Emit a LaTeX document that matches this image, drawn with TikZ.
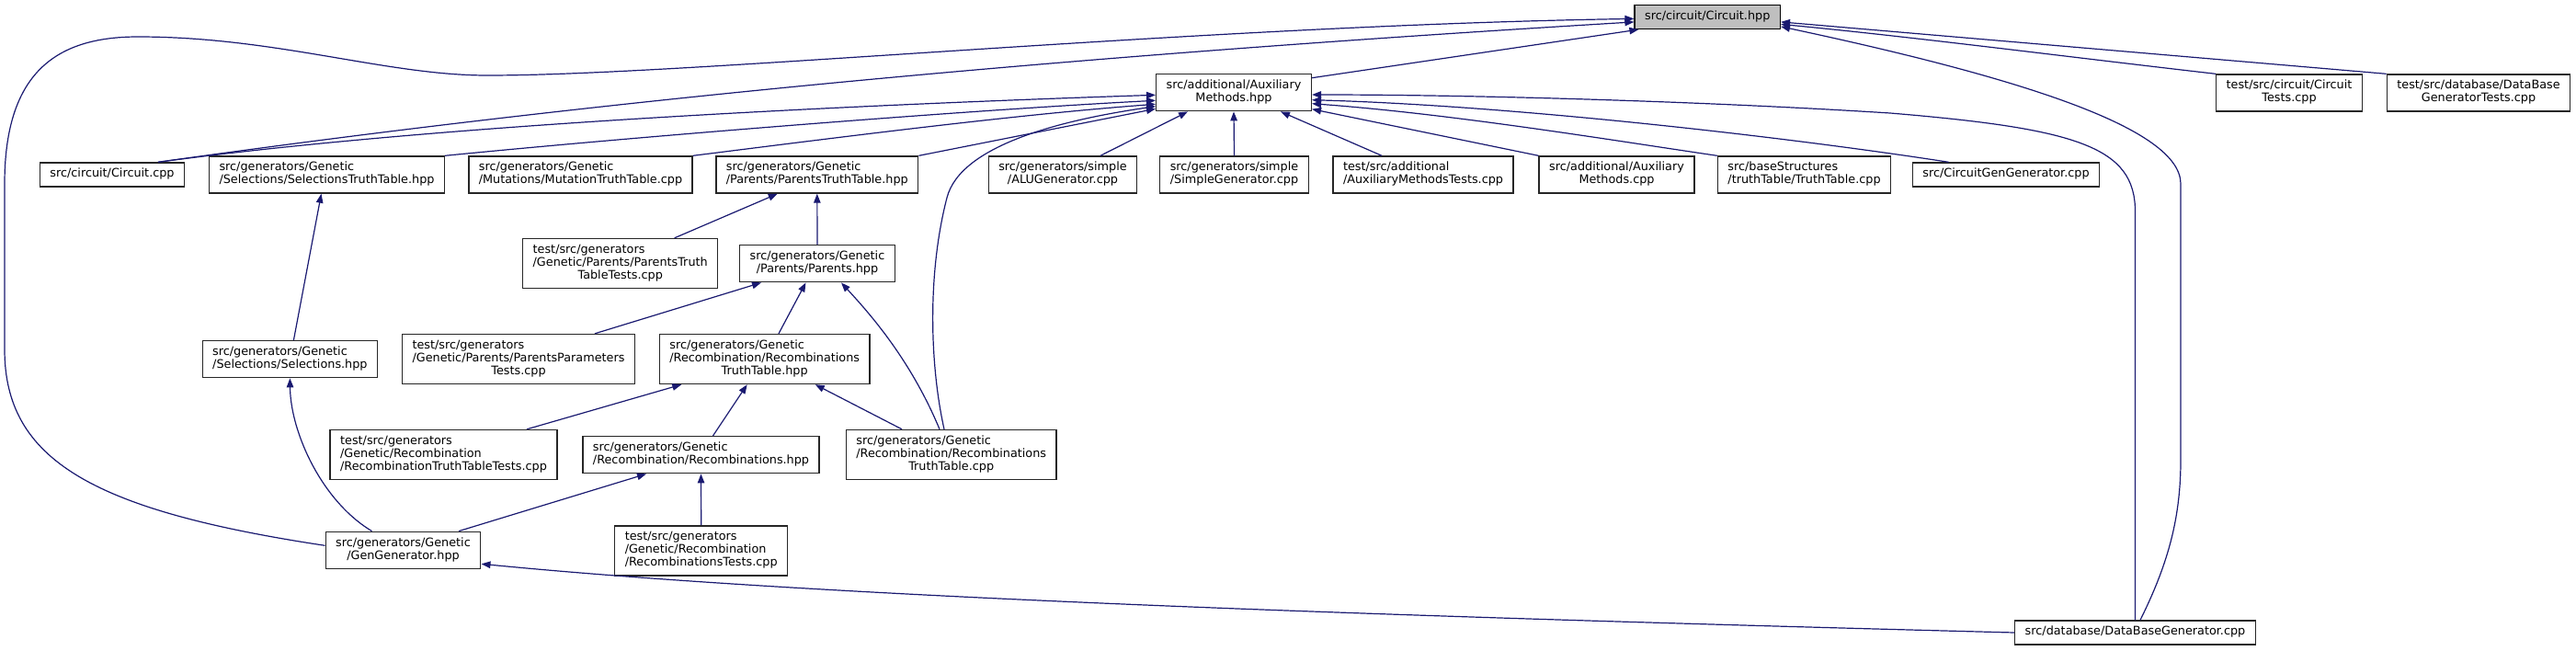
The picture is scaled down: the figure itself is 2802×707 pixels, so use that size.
\documentclass[tikz,border=0pt]{standalone}
\usepackage{fontspec}
\setmainfont{DejaVu Sans}
\usepackage{xcolor}
\usepackage{tikz}
\usetikzlibrary{arrows.meta,calc}

\definecolor{edgeblue}{HTML}{191970}
\definecolor{boxgray}{HTML}{262626}
\definecolor{rootfill}{HTML}{BFBFBF}

% file labels: wrapped lines flush left, last line centred
\newcommand{\flabel}[2]{\begin{tabular}{@{}l@{}}#1\\\multicolumn{1}{@{}c@{}}{#2}\end{tabular}}
\newcommand{\olabel}[1]{\begin{tabular}{@{}l@{}}#1\end{tabular}}

\begin{document}
\begin{tikzpicture}[x=1pt, y=-1pt,
    every node/.style={font=\fontsize{12.8}{14}\selectfont},
    file/.style={draw=boxgray, fill=white, line width=1.4pt, inner xsep=11pt, inner ysep=6pt},
    rootfile/.style={file, draw=black, fill=rootfill},
    edge/.style={draw=edgeblue, line width=1.2pt, -{Triangle[length=10pt,width=7.5pt]}}]
    \useasboundingbox (0,0) rectangle (2802,707);

    % Root header
    \node[rootfile] (root) at (1857.2,18.4) {\olabel{src/circuit/Circuit.hpp}};

    % First level
    \node[file] (aux) at (1342,100.7) {\flabel{src/additional/Auxiliary}{Methods.hpp}};
    \node[file] (ctests) at (2490,101) {\flabel{test/src/circuit/Circuit}{Tests.cpp}};
    \node[file] (dbtests) at (2696,101) {\flabel{test/src/database/DataBase}{GeneratorTests.cpp}};

    % Second level
    \node[file] (ccpp) at (122,190) {\olabel{src/circuit/Circuit.cpp}};
    \node[file] (seltt) at (355.5,190) {\flabel{src/generators/Genetic}{/Selections/SelectionsTruthTable.hpp}};
    \node[file] (mut) at (631.5,190) {\flabel{src/generators/Genetic}{/Mutations/MutationTruthTable.cpp}};
    \node[file] (partt) at (888.8,190) {\flabel{src/generators/Genetic}{/Parents/ParentsTruthTable.hpp}};
    \node[file] (alu) at (1156,190) {\flabel{src/generators/simple}{/ALUGenerator.cpp}};
    \node[file] (simple) at (1342.5,190) {\flabel{src/generators/simple}{/SimpleGenerator.cpp}};
    \node[file] (auxtests) at (1548,190) {\flabel{test/src/additional}{/AuxiliaryMethodsTests.cpp}};
    \node[file] (auxcpp) at (1758.5,190) {\flabel{src/additional/Auxiliary}{Methods.cpp}};
    \node[file] (tt) at (1962.5,190) {\flabel{src/baseStructures}{/truthTable/TruthTable.cpp}};
    \node[file] (cgg) at (2182,190) {\olabel{src/CircuitGenGenerator.cpp}};

    % Parents
    \node[file] (parttests) at (674.7,286.5) {\flabel{test/src/generators\\/Genetic/Parents/ParentsTruth}{TableTests.cpp}};
    \node[file] (parents) at (889,286.7) {\flabel{src/generators/Genetic}{/Parents/Parents.hpp}};

    % Selections and recombination
    \node[file] (sel) at (315.4,390.7) {\flabel{src/generators/Genetic}{/Selections/Selections.hpp}};
    \node[file] (ppt) at (564,390.5) {\flabel{test/src/generators\\/Genetic/Parents/ParentsParameters}{Tests.cpp}};
    \node[file] (rtth) at (831.7,390.5) {\flabel{src/generators/Genetic\\/Recombination/Recombinations}{TruthTable.hpp}};
    \node[file] (rttt) at (482.5,494.5) {\flabel{test/src/generators\\/Genetic/Recombination}{/RecombinationTruthTableTests.cpp}};
    \node[file] (rec) at (762.5,494.7) {\flabel{src/generators/Genetic}{/Recombination/Recombinations.hpp}};
    \node[file] (rttc) at (1034.7,494.5) {\flabel{src/generators/Genetic\\/Recombination/Recombinations}{TruthTable.cpp}};

    % Bottom
    \node[file] (gen) at (438.5,598.3) {\flabel{src/generators/Genetic}{/GenGenerator.hpp}};
    \node[file] (rtests) at (762.7,598.8) {\flabel{test/src/generators\\/Genetic/Recombination}{/RecombinationsTests.cpp}};
    \node[file] (dbg) at (2322.5,688) {\olabel{src/database/DataBaseGenerator.cpp}};

    % Edges into Circuit.hpp
    \draw[edge] ($(aux.east)+(0,-16)$) -- ($(root.south west)+(5,0)$);
    \draw[edge] ($(ccpp.north)+(50,0)$) .. controls (672,106) and (1178,60) .. ($(root.west)+(0,5.5)$);
    \draw[edge] ($(gen.west)+(0,-5)$) .. controls (100,555) and (5,500) .. (5,380) -- (5,200)
        .. controls (5,80) and (60,40) .. (150,40) .. controls (300,40) and (420,82) .. (530,82)
        .. controls (750,82) and (1300,28) .. ($(root.west)+(0,2)$);
    \draw[edge] (ctests.north west) .. controls (2250,62) and (2080,40) .. ($(root.east)+(0,8)$);
    \draw[edge] (dbtests.north west) -- ($(root.east)+(0,5.5)$);
    \draw[edge] ($(dbg.north)+(5.5,0)$) .. controls (2360,610) and (2372,560) .. (2372,500) -- (2372,200)
        .. controls (2372,140) and (2200,85) .. ($(root.east)+(0,10.5)$);

    % Edges into AuxiliaryMethods.hpp
    \draw[edge] ($(ccpp.north)+(50,0)$) .. controls (472,136) and (906,115) .. ($(aux.west)+(0,2.6)$);
    \draw[edge] (seltt.north east) .. controls (700,148) and (1050,120) .. ($(aux.west)+(0,8.6)$);
    \draw[edge] (mut.north east) .. controls (900,151) and (1100,125) .. ($(aux.west)+(0,12.6)$);
    \draw[edge] (partt.north east) -- ($(aux.west)+(0,17.6)$);
    \draw[edge] ($(rttc.north)+(-7.7,0)$) .. controls (1012,400) and (1008,300) .. (1030,215)
        .. controls (1045,157) and (1158,130) .. ($(aux.west)+(0,15)$);
    \draw[edge] ($(alu.north)+(41,0)$) -- ($(aux.south)+(-50,0)$);
    \draw[edge] (simple.north) -- (aux.south);
    \draw[edge] ($(auxtests.north)+(-45,0)$) -- ($(aux.south)+(51,0)$);
    \draw[edge] (auxcpp.north west) -- ($(aux.east)+(0,18)$);
    \draw[edge] (tt.north west) .. controls (1750,152) and (1580,124) .. ($(aux.east)+(0,12)$);
    \draw[edge] ($(cgg.north)+(-62.5,0)$) .. controls (1950,150) and (1650,115) .. ($(aux.east)+(0,8)$);
    \draw[edge] (dbg.north) -- (2322.5,230) .. controls (2322.5,160) and (2260,140) .. (2056,123)
        .. controls (1850,110) and (1600,103) .. ($(aux.east)+(0,2.3)$);

    % Parents / selections
    \draw[edge] ($(parttests.north)+(59,0)$) -- ($(partt.south)+(-43,0)$);
    \draw[edge] (parents.north) -- (partt.south);
    \draw[edge] ($(sel.north)+(4,0)$) -- ($(seltt.south)+(-6,0)$);
    \draw[edge] ($(gen.north)+(-34,0)$) .. controls (350,545) and (316,470) .. (sel.south);
    \draw[edge] ($(ppt.north)+(83,0)$) -- ($(parents.south)+(-61,0)$);
    \draw[edge] ($(rtth.north)+(15.3,0)$) -- ($(parents.south)+(-12.5,0)$);
    \draw[edge] ($(rttc.north)+(-12.7,0)$) .. controls (990,390) and (945,340) .. ($(parents.south)+(26,0)$);

    % Recombination
    \draw[edge] ($(rttt.north)+(90.5,0)$) -- ($(rtth.south)+(-90.4,0)$);
    \draw[edge] ($(rec.north)+(13,0)$) -- ($(rtth.south)+(-19,0)$);
    \draw[edge] ($(rttc.north)+(-53.7,0)$) -- ($(rtth.south)+(55,0)$);
    \draw[edge] ($(gen.north)+(60.5,0)$) -- ($(rec.south)+(-59.5,0)$);
    \draw[edge] (rtests.north) -- (rec.south);
    \draw[edge] (dbg.west) .. controls (1500,670) and (900,650) .. ($(gen.east)+(0,15)$);
\end{tikzpicture}
\end{document}
